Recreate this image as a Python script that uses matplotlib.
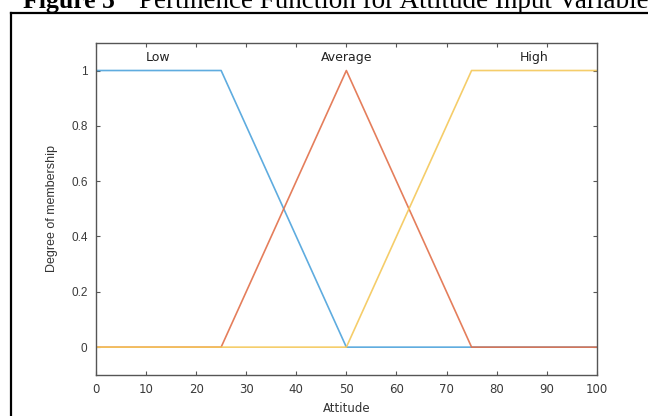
import numpy as np
import matplotlib
matplotlib.use("Agg")
import matplotlib.pyplot as plt
from matplotlib.lines import Line2D

# membership function breakpoints (Attitude input variable)
low_x = [0, 25, 50, 100]
low_y = [1, 1, 0, 0]
avg_x = [0, 25, 50, 75, 100]
avg_y = [0, 0, 1, 0, 0]
high_x = [0, 50, 75, 100]
high_y = [0, 0, 1, 1]

mf_names = ["Low", "Average", "High"]
mf_label_x = [12.5, 50, 87.5]

xticks = list(range(0, 101, 10))
yticks = [0, 0.2, 0.4, 0.6, 0.8, 1]
ytick_labels = ["0", "0.2", "0.4", "0.6", "0.8", "1"]

plt.rcParams["font.family"] = ["Liberation Sans", "DejaVu Sans"]

fig = plt.figure(figsize=(6.48, 4.16), dpi=100)
ax = fig.add_axes([0.148, 0.099, 0.773, 0.798])

ax.plot(low_x, low_y, color="#4da3dc", lw=1.2, alpha=0.9)
ax.plot(avg_x, avg_y, color="#e2704a", lw=1.2, alpha=0.9)
ax.plot(high_x, high_y, color="#f4c85a", lw=1.2, alpha=0.9)

for name, xv in zip(mf_names, mf_label_x):
    ax.text(xv, 1.047, name, ha="center", va="center", fontsize=9,
            family="DejaVu Sans", color="#222222")

ax.set_xlim(0, 100)
ax.set_ylim(-0.1, 1.1)
ax.set_xticks(xticks)
ax.set_yticks(yticks)
ax.set_yticklabels(ytick_labels)
ax.tick_params(direction="in", top=True, right=True, labelsize=8.5,
               colors="#555555", labelcolor="#3a3a3a", length=3, pad=6)
for lbl in ax.get_xticklabels():
    lbl.set_family("DejaVu Sans")
for s in ax.spines.values():
    s.set_color("#555555")
    s.set_linewidth(1.0)

ax.set_xlabel("Attitude", fontsize=8.5, color="#333333", family="DejaVu Sans")
ax.xaxis.set_label_coords(0.5, -0.081)
ax.set_ylabel("Degree of membership", fontsize=9, color="#333333",
              family=["Liberation Sans Narrow", "Liberation Sans", "DejaVu Sans"])
ax.yaxis.set_label_coords(-0.076, 0.5)

# page elements: caption (cut off at top, as in the source page) and frame
fig.text(0.035, 0.981, "Figure 5", fontsize=18.5, fontweight="bold",
         family=["Liberation Serif", "DejaVu Serif"], va="baseline")
fig.text(0.214, 0.981, "Pertinence Function for Attitude Input Variable", fontsize=19.5,
         family=["Liberation Serif", "DejaVu Serif"], va="baseline")
fig.add_artist(Line2D([0.017, 1.0], [0.969, 0.969], color="black", lw=1.6))
fig.add_artist(Line2D([0.017, 0.017], [0.0, 0.969], color="black", lw=1.6))

fig.savefig("out.png", dpi=100)
